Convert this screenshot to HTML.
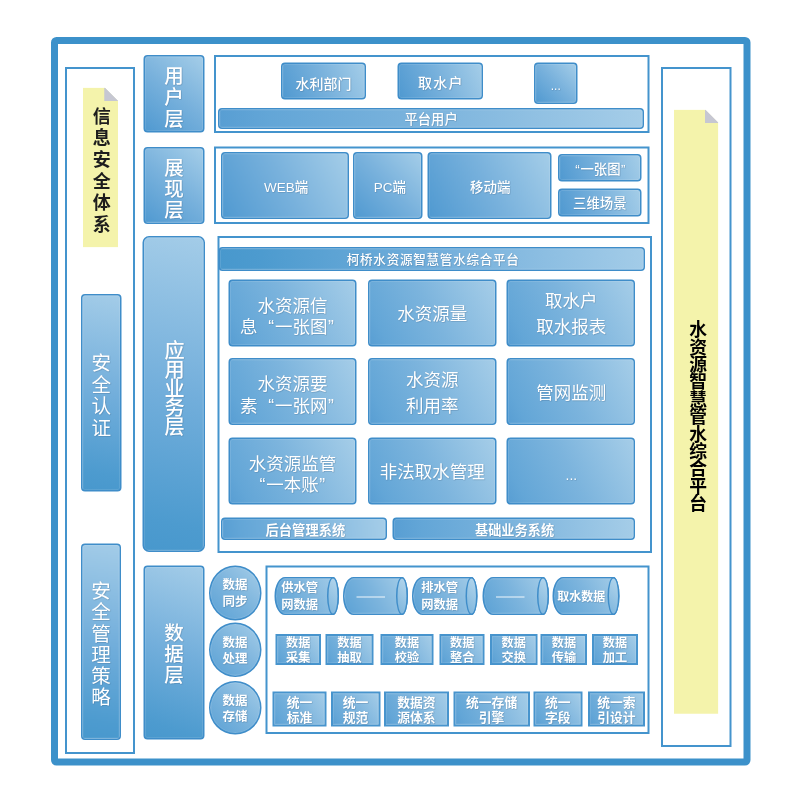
<!DOCTYPE html>
<html lang="zh-CN"><head><meta charset="utf-8">
<title>水资源智慧管水综合平台 总体架构</title>
<style>
html,body{margin:0;padding:0;background:#fff}
body{width:800px;height:800px;overflow:hidden;position:relative;font-family:"Liberation Sans",sans-serif}
#stage{position:absolute;left:0;top:0;width:1600px;height:1600px;transform:scale(.5);transform-origin:0 0}
#stage div{position:absolute;box-sizing:border-box}
.frame{border:14px solid #3c91ca;border-radius:11px;background:#fff}
.panel{border:4px solid #4494cd;background:#fff}
.b{border:3px solid #3f8dc9;border-radius:8px;background:linear-gradient(var(--a,45deg),#589ed3 0%,#63a6d7 12%,#7cb4dd 50%,#a5cde8 100%);box-shadow:inset 0 0 0 2px rgba(255,255,255,.10)}
.L{background:linear-gradient(var(--a,45deg),#4898cd 0%,#4d9bcf 10%,#72aedb 50%,#a3cce8 100%)}
.M{background:linear-gradient(var(--a,45deg),#4f99d0 0%,#589ed3 10%,#78b1dc 50%,#a4cde8 100%)}
.r6{border-radius:13px}
.circ{border-radius:50%}
.cyl{border-radius:21px 12px 12px 21px/50%}
.sq{border-radius:0;border-width:4px;border-color:#4794cd}
.cap{position:absolute;right:-3px;top:-3px;bottom:-3px;width:24px;box-sizing:border-box;border:3px solid #3f8dc9;border-radius:50%;background:linear-gradient(45deg,#7db5dd,#b4d6ec)}
.dash{position:absolute;left:24px;top:50%;margin-top:1px;width:57px;height:2.5px;background:#fff;opacity:.9}
.note{background:#f4f3ab}
.fold{position:absolute;right:0;top:0;width:0;height:0;border-style:solid;border-color:transparent transparent #c6c7d2 #c6c7d2}
.t{position:absolute;left:0;top:0;width:100%;height:100%;overflow:hidden;color:transparent;font-size:20px;line-height:1.2;text-align:center;display:flex;align-items:center;justify-content:center;word-break:break-all}
svg.g{position:absolute;left:0;top:0;width:100%;height:100%;overflow:visible;pointer-events:none}
svg.g text{font-family:"Liberation Sans","Noto Sans CJK SC",sans-serif}
svg.sh{filter:drop-shadow(1px 1.5px 1px rgba(40,70,100,.35))}
</style></head><body>
<div id="stage">
<div class="frame" style="left:102px;top:74px;width:1399px;height:1456.5px;"></div>
<div class="panel" style="left:129.5px;top:134px;width:140.5px;height:1373.5px;"></div>
<div class="panel" style="left:1322px;top:134px;width:140.5px;height:1360px;"></div>
<div class="panel" style="left:428px;top:110px;width:871px;height:156px;"></div>
<div class="panel" style="left:427.5px;top:292.5px;width:871.5px;height:155.5px;"></div>
<div class="panel" style="left:434.5px;top:472px;width:869px;height:634px;"></div>
<div class="panel" style="left:530.5px;top:1130.5px;width:768px;height:337.5px;"></div>
<div class="note" style="left:166px;top:175px;width:70px;height:320px;clip-path:polygon(0 0,calc(100% - 27px) 0,100% 27px,100% 100%,0 100%);"><i class="fold" style="border-width:0 0 27px 27px"></i><svg class="g" fill="#1d1d1d" font-size="36" font-weight="700"><text x="19.5" y="70">信</text><text x="19.5" y="113.5">息</text><text x="19.5" y="157">安</text><text x="19.5" y="200">全</text><text x="19.5" y="243.5">体</text><text x="19.5" y="287">系</text></svg></div>
<div class="note" style="left:1347.5px;top:219px;width:89.5px;height:1208.5px;clip-path:polygon(0 0,calc(100% - 27px) 0,100% 27px,100% 100%,0 100%);"><i class="fold" style="border-width:0 0 27px 27px"></i><svg class="g" fill="#000" font-size="35.6" font-weight="700"><text x="30.5" y="453">水</text><text x="30.5" y="488">资</text><text x="30.5" y="522.5">源</text><text x="30.5" y="557.5">智</text><text x="30.5" y="592.5">慧</text><text x="30.5" y="627">管</text><text x="30.5" y="662">水</text><text x="30.5" y="696.5">综</text><text x="30.5" y="731.5">合</text><text x="30.5" y="766.5">平</text><text x="30.5" y="801">台</text></svg></div>
<div class="b M" style="left:286.5px;top:110px;width:122.5px;height:155px;--a:38.3deg;"><svg class="g sh" style="left:-3px;top:-3px" fill="#fff" font-size="39" font-weight="500"><text x="41.5" y="55.5">用</text><text x="41.5" y="98.5">户</text><text x="41.5" y="141">层</text></svg></div>
<div class="b M" style="left:286.5px;top:293.5px;width:122.5px;height:154px;--a:38.5deg;"><svg class="g sh" style="left:-3px;top:-3px" fill="#fff" font-size="39" font-weight="500"><text x="41.5" y="55">展</text><text x="41.5" y="98">现</text><text x="41.5" y="140.5">层</text></svg></div>
<div class="b L r6" style="left:285px;top:471.5px;width:125px;height:632px;--a:11.2deg;"><svg class="g sh" style="left:-3px;top:-3px" fill="#fff" font-size="40.4" font-weight="500"><text x="44" y="243.5">应</text><text x="44" y="281.5">用</text><text x="44" y="319">业</text><text x="44" y="357">务</text><text x="44" y="395">层</text></svg></div>
<div class="b L" style="left:286.5px;top:1131px;width:122px;height:347.5px;--a:19.3deg;"><svg class="g sh" style="left:-3px;top:-3px" fill="#fff" font-size="39.2" font-weight="500"><text x="41.5" y="149">数</text><text x="41.5" y="191">据</text><text x="41.5" y="233.5">层</text></svg></div>
<div class="b L" style="left:161.5px;top:587.5px;width:81px;height:395px;--a:11.6deg;"><svg class="g sh" style="left:-3px;top:-3px" fill="#fff" font-size="39.2" font-weight="400"><text x="21" y="152.5">安</text><text x="21" y="195">全</text><text x="21" y="238">认</text><text x="21" y="281">证</text></svg></div>
<div class="b L" style="left:161.5px;top:1086.5px;width:80px;height:393.5px;--a:11.5deg;"><svg class="g sh" style="left:-3px;top:-3px" fill="#fff" font-size="39.2" font-weight="400"><text x="20.5" y="108.5">安</text><text x="20.5" y="151.5">全</text><text x="20.5" y="194">管</text><text x="20.5" y="236.5">理</text><text x="20.5" y="279">策</text><text x="20.5" y="321.5">略</text></svg></div>
<div class="b M" style="left:561.5px;top:125px;width:170px;height:74px;--a:66.5deg;"><svg class="g sh" style="left:-3px;top:-3px" fill="#fff" font-size="28" font-weight="500"><text x="29" y="52">水利部门</text></svg></div>
<div class="b M" style="left:795px;top:125px;width:171px;height:74px;--a:66.7deg;"><svg class="g sh" style="left:-3px;top:-3px" fill="#fff" font-size="28" font-weight="500"><text x="41" y="50" letter-spacing="2.4">取水户</text></svg></div>
<div class="b M" style="left:1067.5px;top:125px;width:87px;height:83px;--a:46.3deg;"><svg class="g sh" style="left:-3px;top:-3px" fill="#fff" font-size="24" font-weight="500"><text x="33.5" y="54.5">...</text></svg></div>
<div class="b" style="left:436px;top:216px;width:852px;height:42px;--a:87.2deg;"><svg class="g sh" style="left:-3px;top:-3px" fill="#fff" font-size="26.6" font-weight="500"><text x="373" y="32.5">平台用户</text></svg></div>
<div class="b M" style="left:442px;top:303.5px;width:255.5px;height:134.5px;--a:62.3deg;"><svg class="g sh" style="left:-3px;top:-3px" fill="#fff" font-size="27" font-weight="500"><text x="86" y="79">WEB端</text></svg></div>
<div class="b M" style="left:706px;top:303.5px;width:139px;height:134.5px;--a:46.0deg;"><svg class="g sh" style="left:-3px;top:-3px" fill="#fff" font-size="27" font-weight="500"><text x="41.5" y="79">PC端</text></svg></div>
<div class="b M" style="left:855px;top:303.5px;width:247.5px;height:134.5px;--a:61.5deg;"><svg class="g sh" style="left:-3px;top:-3px" fill="#fff" font-size="27" font-weight="500"><text x="85" y="79">移动端</text></svg></div>
<div class="b M" style="left:1116px;top:308px;width:166.5px;height:55px;--a:71.7deg;"><svg class="g sh" style="left:-3px;top:-3px" fill="#fff" font-size="26.8" font-weight="500"><text x="34.6 44.8 71.6 98.4 126" y="39.5">“一张图”</text></svg></div>
<div class="b M" style="left:1116px;top:377px;width:166.5px;height:55.5px;--a:71.6deg;"><svg class="g sh" style="left:-3px;top:-3px" fill="#fff" font-size="26.8" font-weight="500"><text x="30" y="39.5">三维场景</text></svg></div>
<div class="b L" style="left:437px;top:494px;width:852.5px;height:48px;--a:86.8deg;"><svg class="g sh" style="left:-3px;top:-3px" fill="#fff" font-size="25.2" font-weight="500"><text x="256.5" y="34.5" letter-spacing="1.41">柯桥水资源智慧管水综合平台</text></svg></div>
<div class="b" style="left:456.5px;top:558.5px;width:256px;height:134.5px;--a:62.3deg;"><svg class="g sh" style="left:-3px;top:-3px" fill="#fff" font-size="35" font-weight="400"><text x="58" y="64.5">水资源信</text><text x="23 79.7 93 128 163 199" y="107">息“一张图”</text></svg></div>
<div class="b" style="left:736px;top:558.5px;width:256.5px;height:134.5px;--a:62.3deg;"><svg class="g sh" style="left:-3px;top:-3px" fill="#fff" font-size="35" font-weight="400"><text x="58.5" y="80.5">水资源量</text></svg></div>
<div class="b" style="left:1013px;top:558.5px;width:257px;height:134.5px;--a:62.4deg;"><svg class="g sh" style="left:-3px;top:-3px" fill="#fff" font-size="35" font-weight="400"><text x="77" y="54">取水户</text><text x="59.5" y="106">取水报表</text></svg></div>
<div class="b" style="left:456.5px;top:715.5px;width:256px;height:134px;--a:62.3deg;"><svg class="g sh" style="left:-3px;top:-3px" fill="#fff" font-size="35" font-weight="400"><text x="58" y="64">水资源要</text><text x="23 79.7 93 128 163 199" y="107">素“一张网”</text></svg></div>
<div class="b" style="left:736px;top:715.5px;width:256.5px;height:134px;--a:62.4deg;"><svg class="g sh" style="left:-3px;top:-3px" fill="#fff" font-size="35" font-weight="400"><text x="76" y="56.5">水资源</text><text x="76" y="108.5">利用率</text></svg></div>
<div class="b" style="left:1013px;top:715.5px;width:257px;height:134px;--a:62.4deg;"><svg class="g sh" style="left:-3px;top:-3px" fill="#fff" font-size="35" font-weight="400"><text x="59.5" y="81">管网监测</text></svg></div>
<div class="b" style="left:456.5px;top:875px;width:256px;height:134px;--a:62.3deg;"><svg class="g sh" style="left:-3px;top:-3px" fill="#fff" font-size="35" font-weight="400"><text x="40.5" y="64">水资源监管</text><text x="62.2 75.5 110.5 145.5 181.5" y="106.5">“一本账”</text></svg></div>
<div class="b" style="left:736px;top:875px;width:256.5px;height:134px;--a:62.4deg;"><svg class="g sh" style="left:-3px;top:-3px" fill="#fff" font-size="35" font-weight="400"><text x="23.5" y="81">非法取水管理</text></svg></div>
<div class="b" style="left:1013px;top:875px;width:257px;height:134px;--a:62.4deg;"><svg class="g sh" style="left:-3px;top:-3px" fill="#fff" font-size="28" font-weight="500"><text x="118" y="84.5">...</text></svg></div>
<div class="b" style="left:441.5px;top:1034.5px;width:332.5px;height:45px;--a:82.3deg;"><svg class="g sh" style="left:-3px;top:-3px" fill="#fff" font-size="26.6" font-weight="700"><text x="89" y="35">后台管理系统</text></svg></div>
<div class="b" style="left:785px;top:1034.5px;width:485px;height:45px;--a:84.7deg;"><svg class="g sh" style="left:-3px;top:-3px" fill="#fff" font-size="26.4" font-weight="700"><text x="165" y="35">基础业务系统</text></svg></div>
<div class="b circ" style="left:418px;top:1131px;width:104.5px;height:109.5px;--a:43.6deg;"><svg class="g sh" style="left:-3px;top:-3px" fill="#fff" font-size="25" font-weight="700"><text x="27" y="46">数据</text><text x="27" y="81">同步</text></svg></div>
<div class="b circ" style="left:418px;top:1245px;width:104.5px;height:109px;--a:43.8deg;"><svg class="g sh" style="left:-3px;top:-3px" fill="#fff" font-size="25" font-weight="700"><text x="27" y="48.5">数据</text><text x="27" y="80.5">处理</text></svg></div>
<div class="b circ" style="left:418px;top:1361.5px;width:104.5px;height:107.5px;--a:44.1deg;"><svg class="g sh" style="left:-3px;top:-3px" fill="#fff" font-size="25" font-weight="700"><text x="27" y="48.5">数据</text><text x="27" y="80">存储</text></svg></div>
<div class="b cyl" style="left:548.5px;top:1154px;width:129px;height:75.5px;--a:59.7deg;"><i class="cap"></i><svg class="g sh" style="left:-3px;top:-3px" fill="#fff" font-size="24.6" font-weight="700"><text x="13.5" y="30.5">供水管</text><text x="13.5" y="64.5">网数据</text></svg></div>
<div class="b cyl" style="left:685.5px;top:1154px;width:130.5px;height:75.5px;--a:59.9deg;"><span class="t">——</span><i class="cap"></i><i class="dash"></i></div>
<div class="b cyl" style="left:823.5px;top:1154px;width:131.5px;height:75.5px;--a:60.1deg;"><i class="cap"></i><svg class="g sh" style="left:-3px;top:-3px" fill="#fff" font-size="24.6" font-weight="700"><text x="18.5" y="30.5">排水管</text><text x="18.5" y="64.5">网数据</text></svg></div>
<div class="b cyl" style="left:965px;top:1154px;width:132.5px;height:75.5px;--a:60.3deg;"><span class="t">——</span><i class="cap"></i><i class="dash"></i></div>
<div class="b cyl" style="left:1105px;top:1154px;width:134px;height:75.5px;--a:60.5deg;"><i class="cap"></i><svg class="g sh" style="left:-3px;top:-3px" fill="#fff" font-size="24" font-weight="700"><text x="9.5" y="47.5">取水数据</text></svg></div>
<div class="b sq" style="left:551px;top:1268px;width:91px;height:62px;--a:55.7deg;"><svg class="g sh" style="left:-4px;top:-4px" fill="#fff" font-size="24.4" font-weight="700"><text x="21" y="25.5">数据</text><text x="21" y="56">采集</text></svg></div>
<div class="b sq" style="left:651px;top:1268px;width:96px;height:62px;--a:57.1deg;"><svg class="g sh" style="left:-4px;top:-4px" fill="#fff" font-size="24.4" font-weight="700"><text x="23.5" y="25.5">数据</text><text x="23.5" y="56">抽取</text></svg></div>
<div class="b sq" style="left:760.5px;top:1268px;width:106px;height:62px;--a:59.6deg;"><svg class="g sh" style="left:-4px;top:-4px" fill="#fff" font-size="24.4" font-weight="700"><text x="28.5" y="25.5">数据</text><text x="28.5" y="56">校验</text></svg></div>
<div class="b sq" style="left:878.5px;top:1268px;width:90.5px;height:62px;--a:55.5deg;"><svg class="g sh" style="left:-4px;top:-4px" fill="#fff" font-size="24.4" font-weight="700"><text x="21" y="25.5">数据</text><text x="21" y="56">整合</text></svg></div>
<div class="b sq" style="left:979.5px;top:1268px;width:95px;height:62px;--a:56.8deg;"><svg class="g sh" style="left:-4px;top:-4px" fill="#fff" font-size="24.4" font-weight="700"><text x="23" y="25.5">数据</text><text x="23" y="56">交换</text></svg></div>
<div class="b sq" style="left:1080.5px;top:1268px;width:93.5px;height:62px;--a:56.4deg;"><svg class="g sh" style="left:-4px;top:-4px" fill="#fff" font-size="24.4" font-weight="700"><text x="22.5" y="25.5">数据</text><text x="22.5" y="56">传输</text></svg></div>
<div class="b sq" style="left:1183.5px;top:1268px;width:92px;height:62px;--a:56.0deg;"><svg class="g sh" style="left:-4px;top:-4px" fill="#fff" font-size="24.4" font-weight="700"><text x="21.5" y="25.5">数据</text><text x="21.5" y="56">加工</text></svg></div>
<div class="b sq" style="left:544.5px;top:1383px;width:108.5px;height:70px;--a:57.0deg;"><svg class="g sh" style="left:-4px;top:-4px" fill="#fff" font-size="25.6" font-weight="700"><text x="28.5" y="30">统一</text><text x="28.5" y="60">标准</text></svg></div>
<div class="b sq" style="left:662px;top:1383px;width:98.5px;height:70px;--a:54.5deg;"><svg class="g sh" style="left:-4px;top:-4px" fill="#fff" font-size="25.6" font-weight="700"><text x="23.5" y="30">统一</text><text x="23.5" y="60">规范</text></svg></div>
<div class="b sq" style="left:768px;top:1383px;width:130px;height:70px;--a:61.6deg;"><svg class="g sh" style="left:-4px;top:-4px" fill="#fff" font-size="25.6" font-weight="700"><text x="26.5" y="30">数据资</text><text x="26.5" y="60">源体系</text></svg></div>
<div class="b sq" style="left:907px;top:1383px;width:152.5px;height:70px;--a:65.3deg;"><svg class="g sh" style="left:-4px;top:-4px" fill="#fff" font-size="25.6" font-weight="700"><text x="25" y="30">统一存储</text><text x="50.5" y="60">引擎</text></svg></div>
<div class="b sq" style="left:1067px;top:1383px;width:97.5px;height:70px;--a:54.2deg;"><svg class="g sh" style="left:-4px;top:-4px" fill="#fff" font-size="25.6" font-weight="700"><text x="23" y="30">统一</text><text x="23" y="60">字段</text></svg></div>
<div class="b sq" style="left:1175.5px;top:1383px;width:114px;height:70px;--a:58.3deg;"><svg class="g sh" style="left:-4px;top:-4px" fill="#fff" font-size="25.6" font-weight="700"><text x="18.5" y="30">统一索</text><text x="18.5" y="60">引设计</text></svg></div>
</div>
</body></html>
